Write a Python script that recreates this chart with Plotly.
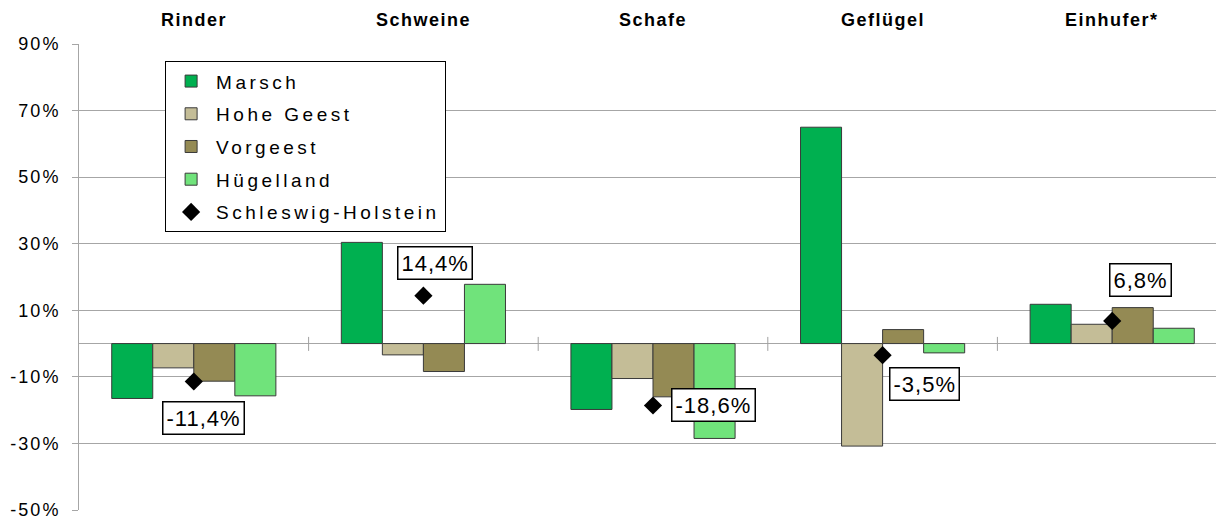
import plotly.graph_objects as go

categories = ["Rinder", "Schweine", "Schafe", "Geflügel", "Einhufer*"]
series_names = ["Marsch", "Hohe Geest", "Vorgeest", "Hügelland"]
marsch = [-16.5, 30.4, -19.8, 65.0, 11.8]
hohe_geest = [-7.3, -3.4, -10.5, -30.8, 5.8]
vorgeest = [-11.3, -8.4, -16.0, 4.2, 10.8]
huegelland = [-15.7, 17.8, -28.5, -2.8, 4.6]
sh_name = "Schleswig-Holstein"
sh_values = [-11.4, 14.4, -18.6, -3.5, 6.8]
sh_labels = ["-11,4%", "14,4%", "-18,6%", "-3,5%", "6,8%"]
y_ticks = [-50, -30, -10, 10, 30, 50, 70, 90]

colors = ["#00B050", "#C4BD97", "#948A54", "#70E37B"]
label_offsets = [(10, -36), (12, 33), (60, 0), (42, -29), (28, 41)]

FONT = "Liberation Sans, Arial, sans-serif"


def spaced(txt, px):
    return '<span style="letter-spacing:%spx">%s</span>' % (px, txt)


fig = go.Figure()
for i, (name, vals) in enumerate(zip(series_names, [marsch, hohe_geest, vorgeest, huegelland])):
    fig.add_trace(go.Bar(
        x=list(range(len(categories))), y=vals, name=spaced(name, 3.5),
        marker=dict(color=colors[i], line=dict(color="#3A3A3A", width=1)),
        legendgroup=name,
    ))

fig.add_trace(go.Scatter(
    x=list(range(len(categories))), y=sh_values, name=spaced(sh_name, 3.5), mode="markers",
    marker=dict(symbol="diamond", color="black", size=14, line=dict(width=0)),
    legendgroup=sh_name,
))

# value labels
for i, (v, lab) in enumerate(zip(sh_values, sh_labels)):
    dx, dy = label_offsets[i]
    fig.add_annotation(
        x=i, y=v, text=spaced(lab, 1), showarrow=False, xshift=dx, yshift=dy,
        font=dict(family=FONT, size=22, color="black"),
        bgcolor="white", bordercolor="black", borderwidth=1.5, borderpad=3,
    )

# category titles
for i, c in enumerate(categories):
    fig.add_annotation(
        x=i, y=1, xref="x", yref="paper", text="<b>%s</b>" % spaced(c, 1.5), showarrow=False,
        yanchor="middle", yshift=24, font=dict(family=FONT, size=18, color="black"),
    )

# category boundary ticks on zero line
for i in range(len(categories) - 1):
    fig.add_shape(type="line", x0=i + 0.5, x1=i + 0.5, y0=-2.2, y1=2.0,
                  xref="x", yref="y", line=dict(color="#A0A0A0", width=1))

fig.update_layout(
    width=1224, height=521,
    margin=dict(l=71, r=5, t=36, b=19, autoexpand=False),
    paper_bgcolor="white", plot_bgcolor="white",
    barmode="group", bargap=0.285, bargroupgap=0,
    font=dict(family=FONT, size=18, color="black"),
    showlegend=True,
    legend=dict(
        x=0.075, y=0.963, xanchor="left", yanchor="top",
        bgcolor="white", bordercolor="black", borderwidth=1,
        font=dict(family=FONT, size=19, color="black"),
        traceorder="grouped", tracegroupgap=5,
        itemwidth=40,
    ),
    xaxis=dict(
        range=[-0.5, len(categories) - 0.5], showticklabels=False, showgrid=False,
        zeroline=False, showline=False, ticks="",
    ),
    yaxis=dict(
        range=[-50, 90], tickvals=y_ticks, ticktext=[spaced("%d%%" % t, 2) for t in y_ticks],
        showgrid=True, gridcolor="#A6A6A6", gridwidth=1,
        zeroline=True, zerolinecolor="#A6A6A6", zerolinewidth=1,
        showline=True, linecolor="#A6A6A6", linewidth=1,
        ticks="outside", ticklen=6, tickcolor="#A6A6A6", ticklabelstandoff=8,
        tickfont=dict(family=FONT, size=18, color="black"),
        automargin=False,
    ),
)

fig.write_html("out.html")
